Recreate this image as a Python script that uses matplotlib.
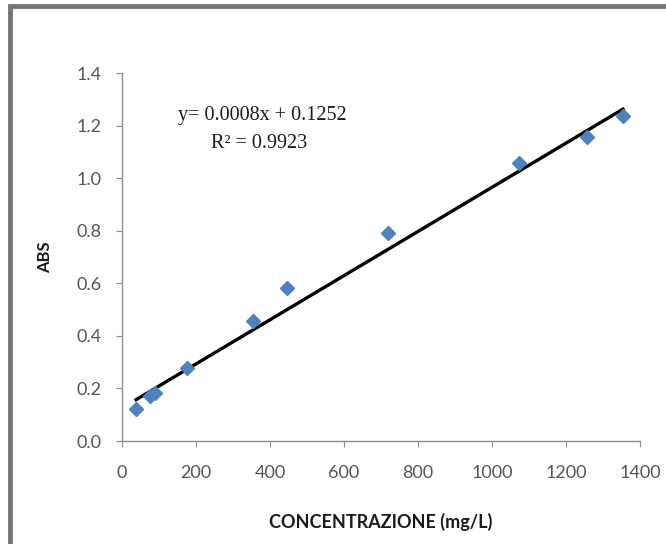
import numpy as np
import matplotlib.pyplot as plt
from matplotlib.patches import Rectangle

# calibration data: concentration (mg/L) vs absorbance
conc = [38, 76, 89, 176, 354, 446, 719, 1073, 1257, 1354]
absorb = [0.122, 0.171, 0.183, 0.278, 0.456, 0.582, 0.791, 1.057, 1.156, 1.236]

# linear trendline coefficients
fit_slope = 0.00084
fit_intercept = 0.1252
r_squared = 0.9923

x_ticks = [0, 200, 400, 600, 800, 1000, 1200, 1400]
y_ticks = [0.0, 0.2, 0.4, 0.6, 0.8, 1.0, 1.2, 1.4]

W, H = 666, 544
fig = plt.figure(figsize=(W / 100, H / 100), dpi=100)
fig.patch.set_facecolor('white')

# chart frame (dark grey border)
frame = Rectangle((10 / W, -0.1), 1.2, (H - 6) / H + 0.1, transform=fig.transFigure,
                  fill=False, edgecolor='#767676', linewidth=3.5)
fig.patches.append(frame)

ax = fig.add_axes([122 / W, (H - 441) / H, (640 - 122) / W, (441 - 73) / H])
ax.set_xlim(0, 1400)
ax.set_ylim(0, 1.4)

xs = np.array([conc[0], conc[-1]])
ax.plot(xs, fit_slope * xs + fit_intercept, color='black', lw=2.4, zorder=2)
ax.plot(conc, absorb, linestyle='none', marker='D', markersize=7,
        color='#4F81BD', markeredgecolor='#4F81BD', zorder=3)

for s in ['top', 'right']:
    ax.spines[s].set_visible(False)
for s in ['left', 'bottom']:
    ax.spines[s].set_color('#8c8c8c')
    ax.spines[s].set_linewidth(1.0)

ax.set_xticks(x_ticks)
ax.set_yticks(y_ticks)
ax.set_yticklabels([f'{v:.1f}' for v in y_ticks])
ax.tick_params(axis='both', direction='out', length=4.5, color='#8c8c8c',
               labelsize=13, labelcolor='#555555')
ax.tick_params(axis='x', pad=13)
ax.tick_params(axis='y', pad=10)
for lab in ax.get_xticklabels() + ax.get_yticklabels():
    lab.set_family('Lato')

ax.set_xlabel('CONCENTRAZIONE (mg/L)', family='Lato', fontweight='bold',
              fontsize=13, labelpad=23, color='#1a1a1a')
ax.set_ylabel('ABS', family='Lato', fontweight='bold', fontsize=12,
              labelpad=17, color='#1a1a1a')

eq = f'y= {fit_slope:.4f}x + {fit_intercept:.4f}'
ax.text(378, 1.24, eq, family='Liberation Serif', fontsize=14.5,
        ha='center', va='center', color='#1a1a1a')
ax.text(370, 1.13, f'R\u00b2 = {r_squared:.4f}', family='Liberation Serif',
        fontsize=14.5, ha='center', va='center', color='#1a1a1a')

fig.savefig('out.png', dpi=100, facecolor='white')
